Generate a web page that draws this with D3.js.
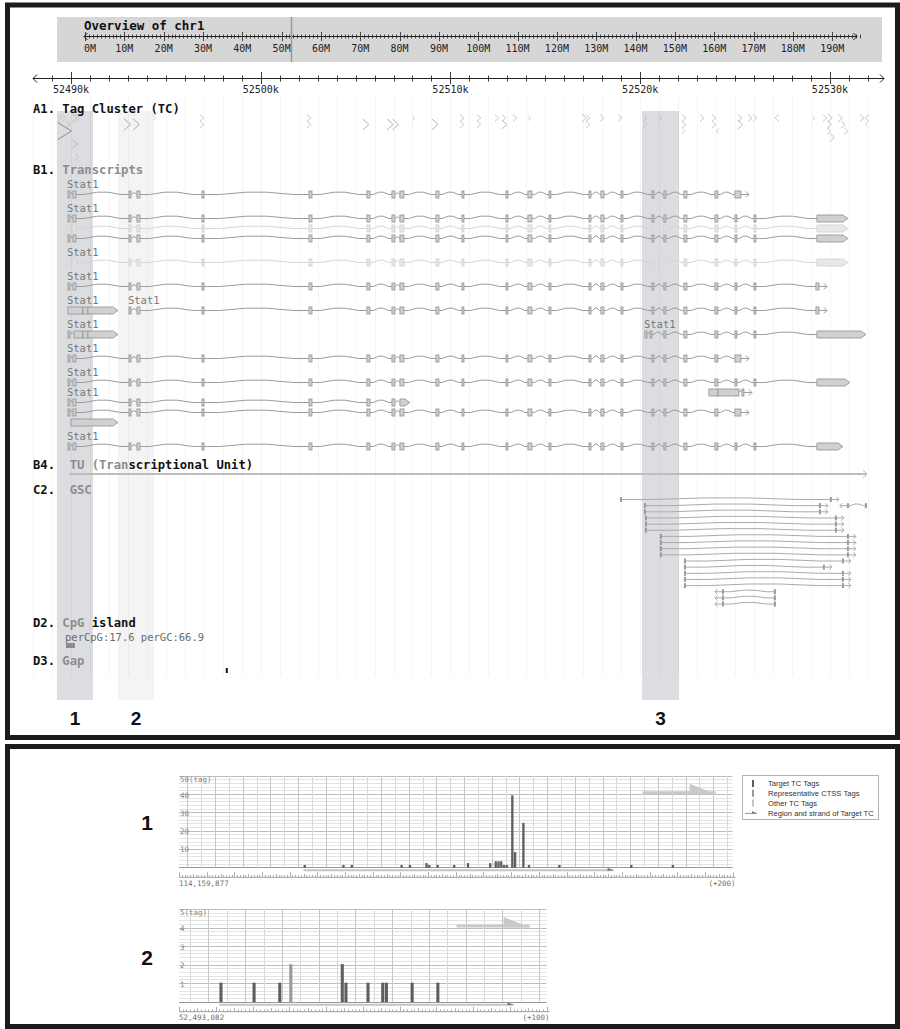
<!DOCTYPE html>
<html>
<head>
<meta charset="utf-8">
<script src="https://cdn.jsdelivr.net/npm/d3@7"></script>
<style>
body { margin: 0; background: #fff; }
svg { display: block; }
text { white-space: pre; }
</style>
</head>
<body>
<script>
const width = 900,
    height = 1029;

// ---- overview ----
const chrName = "chr1";
const chrLength = 197069962;
const viewRange = [52488000, 52532850];

// highlighted tag clusters
const highlights = [
  { name: "1", from: 52489260, to: 52491160, tone: "dark" },
  { name: "2", from: 52492480, to: 52494380, tone: "pale" },
  { name: "3", from: 52520100, to: 52522050, tone: "dark" }
];

// A1 tag clusters: position, lane, tag count, strand
const tagClusters = [
  [52489310, 0, 2, "+"], [52489530, 0, 2, "+"], [52490050, 0, 4, "+"], [52490220, 0, 3, "+"],
  [52489740, 1, 3, "+"], [52489310, 2, 100, "+"], [52490050, 4, 6, "+"], [52490210, 6, 2, "+"],
  [52492790, 1, 14, "+"], [52493270, 1, 12, "+"], [52494320, 0, 1, "+"],
  [52496800, 0, 2, "+"], [52496800, 1, 2, "+"], [52502440, 0, 2, "+"], [52502440, 1, 2, "+"],
  [52505390, 1, 9, "+"], [52506660, 1, 10, "+"], [52506950, 1, 9, "+"], [52507980, 0, 1, "+"],
  [52509030, 1, 9, "+"], [52510510, 0, 2, "+"], [52510510, 1, 2, "+"], [52511400, 0, 2, "+"],
  [52511400, 1, 2, "+"], [52512350, 0, 2, "+"], [52512720, 0, 2, "+"], [52512720, 1, 4, "+"],
  [52513300, 0, 2, "+"], [52514090, 0, 1, "+"], [52516940, 0, 3, "+"], [52517150, 0, 2, "+"],
  [52517150, 1, 2, "+"], [52517890, 0, 2, "+"], [52518840, 0, 2, "+"], [52520150, 0, 2, "+"],
  [52520150, 1, 2, "+"], [52520940, 0, 2, "+"], [52522210, 0, 2, "+"], [52522210, 1, 2, "+"],
  [52522210, 2, 1, "+"], [52523160, 0, 2, "+"], [52523790, 0, 2, "+"], [52523790, 1, 2, "+"],
  [52524000, 2, 1, "-"], [52525160, 0, 2, "+"], [52525160, 1, 4, "+"], [52525690, 0, 2, "+"],
  [52525950, 0, 2, "+"], [52527110, 0, 2, "-"], [52529060, 0, 1, "+"], [52529640, 0, 2, "+"],
  [52529900, 0, 3, "+"], [52529850, 1, 3, "+"], [52529850, 2, 2, "+"], [52530010, 3, 3, "+"],
  [52530430, 0, 3, "+"], [52530600, 1, 2, "+"], [52530750, 2, 2, "+"], [52531590, 0, 2, "+"],
  [52531860, 0, 2, "-"], [52531860, 1, 1, "-"]
];

// B1 Stat1 exon model
const stat1Exons = [
  [52489842, 52489947], [52490105, 52490264], [52493057, 52493162], [52493478, 52493636],
  [52496904, 52497009], [52502543, 52502701], [52505599, 52505757], [52506917, 52507075],
  [52507338, 52507549], [52509236, 52509394], [52510606, 52510711], [52512925, 52513030],
  [52514084, 52514294], [52515191, 52515296], [52517299, 52517404], [52517931, 52518089],
  [52518985, 52519090], [52520619, 52520724], [52521251, 52521357], [52522305, 52522463],
  [52523939, 52524097], [52524993, 52525098], [52525995, 52526100]
];
const utrEnd = [52529314, 52530948];
const shortEnd = [52529262, 52529420];
const altEnd = [52524993, 52525309];

const transcripts = [
  { lane: 0, label: true, light: false, exons: stat1Exons.slice(0, 21).concat([altEnd]) },
  { lane: 1, label: true, light: false, exons: stat1Exons.concat([utrEnd]) },
  { lane: 2, label: false, light: true, exons: stat1Exons.concat([utrEnd]) },
  { lane: 3, label: false, light: false, exons: stat1Exons.concat([utrEnd]) },
  { lane: 4, label: true, light: true, exons: stat1Exons.concat([utrEnd]) },
  { lane: 5, label: true, light: false, exons: stat1Exons.concat([shortEnd]) },
  { lane: 6, label: true, light: false, exons: [[52489842, 52490632], [52490632, 52490896], [52490896, 52492477]] },
  { lane: 6, label: true, light: false, exons: stat1Exons.slice(2).concat([shortEnd]) },
  { lane: 7, label: true, light: false, exons: [[52489842, 52489947], [52490158, 52490632], [52490632, 52490896], [52490896, 52492477]] },
  { lane: 7, label: true, light: false, exons: [[52520250, 52520355], [52520513, 52520619], [52521251, 52521357], [52522305, 52522463],
      [52523939, 52524097], [52524993, 52525098], [52525995, 52526100], [52529314, 52531897]] },
  { lane: 8, label: true, light: false, exons: stat1Exons.slice(0, 21).concat([altEnd]) },
  { lane: 9, label: true, light: false, exons: stat1Exons.concat([[52529314, 52531053]]) },
  { lane: 10, label: false, light: false, exons: [[52523623, 52524097], [52524097, 52525204], [52525362, 52525467]] },
  { lane: 11, label: true, light: false, exons: stat1Exons.slice(0, 8).concat([[52507338, 52507865]]) },
  { lane: 12, label: false, light: false, exons: stat1Exons.slice(0, 21).concat([altEnd]) },
  { lane: 13, label: false, light: false, exons: [[52490000, 52492477]] },
  { lane: 14, label: true, light: false, exons: stat1Exons.concat([[52529314, 52530684]]) }
];
const transcriptName = "Stat1";

// B4 transcriptional unit
const tuRange = [52489900, 52531950];

// C2 GSC tags: from, to, strand, lane
const gscTags = [
  [52518985, 52530053, "+", 0], [52530948, 52531897, "-", 1],
  [52520250, 52529473, "+", 1], [52520250, 52529473, "+", 2],
  [52520303, 52530316, "+", 3], [52520303, 52530316, "+", 4], [52520303, 52530316, "+", 5],
  [52521093, 52530948, "+", 6], [52521093, 52530948, "+", 7], [52521093, 52530948, "+", 8],
  [52521093, 52530948, "+", 9], [52522358, 52530684, "+", 10], [52522358, 52529683, "+", 11],
  [52522358, 52530684, "+", 12], [52522358, 52530684, "+", 13], [52522358, 52530684, "+", 14],
  [52524361, 52527102, "-", 15], [52524361, 52527102, "-", 16], [52524361, 52527102, "-", 17]
];

// D2 / D3
const cpgIsland = { from: 52489740, to: 52490210, perCpG: 17.6, perGC: 66.9 };
const gaps = [[52498160, 52498260]];

// ---- tag charts ----
const tc1Start = 114159877, tc1Span = 200, tc1Max = 50;
const tc1Pos  = [45, 59, 62, 80, 83, 89, 90, 93, 99, 104, 112, 114, 115, 116, 117, 118, 120, 121, 124, 126, 137, 163, 178];
const tc1Tags = [ 1,  1,  1,  1,  1,  2,  1,  1,  1,   2,   2,   3,   3,   3,   1,   1,  39,   8,  24,   1,   1,   1,   1];
const tc1Kind = tc1Pos.map(() => "target");
const tc1Region = [45, 156];

const tc2Start = 52493082, tc2Span = 100, tc2Max = 5;
const tc2Pos  = [11, 20, 27, 30, 44, 45, 51, 55, 56, 63, 70];
const tc2Tags = [ 1,  1,  1,  2,  2,  1,  1,  1,  1,  1,  1];
const tc2Kind = ["target", "target", "target", "rep", "target", "target", "target", "target", "target", "target", "target"];
const tc2Region = [11, 90];

const legendItems = ["Target TC Tags", "Representative CTSS Tags", "Other TC Tags", "Region and strand of Target TC"];

// --------------------------------------------------------------
const mono = '"DejaVu Sans Mono", monospace';
const sans = '"Liberation Sans", Arial, sans-serif';
const kindColor = { target: "#5e5e5e", rep: "#9a9a9a", other: "#c4c4c4" };

const svg = d3.select("body").append("svg")
    .attr("width", width)
    .attr("height", height);

// frames
svg.append("rect").attr("x", 7.5).attr("y", 5).attr("width", 890).attr("height", 732.5)
    .attr("fill", "none").attr("stroke", "#1b1b1b").attr("stroke-width", 5);
svg.append("rect").attr("x", 7.5).attr("y", 746.5).attr("width", 890).attr("height", 280)
    .attr("fill", "none").attr("stroke", "#1b1b1b").attr("stroke-width", 5);

// ---------- overview ----------
const ox = d3.scaleLinear().domain([0, chrLength]).range([85, 860]);
const ov = svg.append("g");
ov.append("rect").attr("x", 57).attr("y", 17).attr("width", 825).attr("height", 45).attr("fill", "#d6d6d6");
ov.append("text").attr("x", 84).attr("y", 30).attr("font-family", mono).attr("font-weight", "bold")
    .attr("font-size", 12.5).attr("fill", "#111").text("Overview of " + chrName);
ov.append("line").attr("x1", ox(0) - 1).attr("x2", ox(chrLength) - 3).attr("y1", 36.5).attr("y2", 36.5)
    .attr("stroke", "#222");
const ovTicks = d3.range(0, chrLength, 1e6);
ov.selectAll(".ot").data(ovTicks).join("line")
    .attr("x1", d => Math.round(ox(d)) + 0.5).attr("x2", d => Math.round(ox(d)) + 0.5)
    .attr("y1", (d, i) => i % 10 === 0 ? 32 : 34.5)
    .attr("y2", (d, i) => i % 10 === 0 ? 41 : 38.5)
    .attr("stroke", "#222").attr("stroke-width", 0.8);
ov.selectAll(".ol").data(ovTicks.filter((d, i) => i % 10 === 0)).join("text")
    .attr("x", (d, i) => i === 0 ? ox(d) - 1 : ox(d))
    .attr("y", 51.5)
    .attr("text-anchor", (d, i) => i === 0 ? "start" : "middle")
    .attr("font-family", mono).attr("font-size", 10).attr("fill", "#222")
    .text(d => (d / 1e6) + "M");
function chevron(g, xt, y, dir, size, color) {
  g.append("path")
      .attr("d", `M${xt - dir * size},${y - size}L${xt},${y}L${xt - dir * size},${y + size}`)
      .attr("fill", "none").attr("stroke", color).attr("stroke-width", 1);
}
chevron(ov, ox(0) - 1, 36.5, -1, 3.5, "#222");
chevron(ov, ox(chrLength) - 3, 36.5, 1, 3.5, "#222");
ov.append("line").attr("x1", ox(d3.mean(viewRange))).attr("x2", ox(d3.mean(viewRange)))
    .attr("y1", 17).attr("y2", 62).attr("stroke", "#9a9a9a").attr("stroke-width", 1.5);

// ---------- main view ----------
const x = d3.scaleLinear().domain(viewRange).range([33, 884]);
const kbTicks = d3.range(Math.ceil(viewRange[0] / 1000) * 1000, viewRange[1], 1000);

const view = svg.append("g");
// highlight bands
view.selectAll(".band").data(highlights).join("rect")
    .attr("x", d => x(d.from)).attr("width", d => x(d.to) - x(d.from))
    .attr("y", 111).attr("height", 589)
    .attr("fill", d => d.tone === "dark" ? "#dcdde0" : "#f4f4f4");
// grid
view.selectAll(".grid").data(kbTicks).join("line")
    .attr("x1", d => Math.round(x(d)) + 0.5).attr("x2", d => Math.round(x(d)) + 0.5)
    .attr("y1", 96).attr("y2", 676)
    .attr("stroke", "#000").attr("stroke-opacity", 0.04);
view.selectAll(".bandno").data(highlights).join("text")
    .attr("x", d => x((d.from + d.to) / 2)).attr("y", 725)
    .attr("text-anchor", "middle").attr("font-family", sans).attr("font-weight", "bold")
    .attr("font-size", 19).attr("fill", "#111").text(d => d.name);

// axis
view.append("line").attr("x1", 33).attr("x2", 884).attr("y1", 78.5).attr("y2", 78.5).attr("stroke", "#222");
chevron(view, 33, 78.5, -1, 4, "#222");
chevron(view, 884, 78.5, 1, 4, "#222");
view.selectAll(".kt").data(kbTicks.filter(d => x(d) > 36)).join("line")
    .attr("x1", d => Math.round(x(d)) + 0.5).attr("x2", d => Math.round(x(d)) + 0.5)
    .attr("y1", d => d % 10000 === 0 ? 72 : 75.5)
    .attr("y2", d => d % 10000 === 0 ? 84 : 81.5)
    .attr("stroke", "#222").attr("stroke-width", 0.9);
view.selectAll(".kl").data(kbTicks.filter(d => d % 10000 === 0)).join("text")
    .attr("x", d => x(d)).attr("y", 93).attr("text-anchor", "middle")
    .attr("font-family", mono).attr("font-size", 10).attr("fill", "#222")
    .text(d => (d / 1000) + "k");

// track labels
const trackLabels = [
  { y: 113, code: "A1. ", parts: [["Tag Cluster (TC)", "#111"]] },
  { y: 174, code: "B1. ", parts: [["Transcripts", "#8c8c8c"]] },
  { y: 469, code: "B4.  ", parts: [["TU (Tran", "#8c8c8c"], ["scriptional Unit)", "#111"]] },
  { y: 494, code: "C2.  ", parts: [["GSC", "#8c8c8c"]] },
  { y: 627, code: "D2. ", parts: [["CpG", "#8c8c8c"], [" island", "#111"]] },
  { y: 665, code: "D3. ", parts: [["Gap", "#8c8c8c"]] }
];
trackLabels.forEach(t => {
  const tx = view.append("text").attr("x", 33).attr("y", t.y)
      .attr("font-family", mono).attr("font-weight", "bold").attr("font-size", 12.2);
  tx.append("tspan").attr("fill", "#111").text(t.code);
  t.parts.forEach(p => tx.append("tspan").attr("fill", p[1]).text(p[0]));
});

// A1 tag clusters
const tcSize = d3.scaleLog().domain([1, 100]).range([5, 17]);
const tcShade = d3.scaleLog().domain([1, 100]).range(["#d2d2d2", "#8c8c8c"]).clamp(true);
const tcLaneY = lane => 118 + lane * 6.5;
view.append("g").selectAll("path").data(tagClusters).join("path")
    .attr("d", d => {
      const h = tcSize(d[2]), w = h * (d[2] > 50 ? 0.8 : 0.55), y = tcLaneY(d[1]), x0 = x(d[0]);
      return d[3] === "+"
        ? `M${x0},${y - h / 2}L${x0 + w},${y}L${x0},${y + h / 2}`
        : `M${x0 + w},${y - h / 2}L${x0},${y}L${x0 + w},${y + h / 2}`;
    })
    .attr("fill", "none").attr("stroke", d => tcShade(d[2])).attr("stroke-width", 1);

// B1 transcripts
const laneCount = d3.max(transcripts, t => t.lane) + 1;
const laneY = [];
let yCur = 194;
for (let l = 0; l < laneCount; l++) {
  if (l > 0) {
    const labelled = transcripts.filter(t => t.lane === l && t.label);
    const prev = transcripts.filter(t => t.lane === l - 1);
    const clash = labelled.some(a => prev.some(b =>
      x(b.exons[0][0]) < x(a.exons[0][0]) + 34 && x(b.exons[b.exons.length - 1][1]) > x(a.exons[0][0])));
    yCur += clash ? 24 : 10;
  }
  laneY.push(yCur);
}

function hatPoints(x1, x2, y, h) {
  const w = x2 - x1;
  if (w < 8) return [[x1, y], [(x1 + x2) / 2, y - 2], [x2, y]];
  return [[x1, y], [x1 + w * 0.15, y], [x1 + w * 0.4, y - h], [x1 + w * 0.6, y - h], [x1 + w * 0.85, y], [x2, y]];
}
const line = d3.line();

const txG = view.append("g");
transcripts.forEach(t => {
  const y = laneY[t.lane];
  const col = t.light
    ? { line: "#d6d6d6", fill: "#e8e8e8", stroke: "#d2d2d2" }
    : { line: "#9c9c9c", fill: "#d0d0d0", stroke: "#999" };
  const g = txG.append("g");
  const ex = t.exons;
  for (let i = 1; i < ex.length; i++) {
    const a = x(ex[i - 1][1]), b = x(ex[i][0]);
    if (b - a > 0.5) {
      g.append("path").attr("d", line(hatPoints(a, b, y + 0.5, 2.3)))
          .attr("fill", "none").attr("stroke", col.line).attr("stroke-width", 1);
    }
  }
  ex.forEach((e, i) => {
    const a = x(e[0]), b = Math.max(x(e[1]), a + 1.6);
    const last = i === ex.length - 1;
    if (last && b - a > 6) {
      g.append("path")
          .attr("d", `M${a},${y - 3}H${b - 5}L${b},${y + 0.5}L${b - 5},${y + 4}H${a}Z`)
          .attr("fill", col.fill).attr("stroke", col.stroke).attr("stroke-width", 0.9);
    } else {
      g.append("rect").attr("x", a).attr("y", y - 3).attr("width", b - a).attr("height", 7)
          .attr("fill", col.fill).attr("stroke", col.stroke).attr("stroke-width", 0.9);
      if (last) {
        g.append("line").attr("x1", b).attr("x2", b + 8).attr("y1", y + 0.5).attr("y2", y + 0.5)
            .attr("stroke", col.line);
        chevron(g, b + 8, y + 0.5, 1, 3, col.line);
      }
    }
  });
  if (t.label) {
    g.append("text").attr("x", x(ex[0][0]) - 1).attr("y", y - 6)
        .attr("font-family", mono).attr("font-size", 10.5).attr("fill", "#777").text(transcriptName);
  }
});

// B4 TU
view.append("line").attr("x1", x(tuRange[0])).attr("x2", x(tuRange[1]))
    .attr("y1", 474).attr("y2", 474).attr("stroke", "#bdbdbd").attr("stroke-width", 2);
chevron(view, x(tuRange[1]), 474, 1, 4, "#bdbdbd");

// C2 GSC
const gscY = lane => 499 + lane * 6.15;
const gscG = view.append("g");
gscTags.forEach(d => {
  const y = gscY(d[3]) + 0.5, a = x(d[0]), b = x(d[1]);
  gscG.append("path").attr("d", line(hatPoints(a, b, y, 1.6)))
      .attr("fill", "none").attr("stroke", "#aaa").attr("stroke-width", 1);
  [a, b].forEach(p => gscG.append("rect").attr("x", p - 1).attr("y", y - 2.5)
      .attr("width", 2).attr("height", 5).attr("fill", "#9a9a9a"));
  if (d[2] === "+") {
    gscG.append("line").attr("x1", b).attr("x2", b + 8).attr("y1", y).attr("y2", y).attr("stroke", "#aaa");
    chevron(gscG, b + 8, y, 1, 2.5, "#aaa");
  } else {
    gscG.append("line").attr("x1", a - 8).attr("x2", a).attr("y1", y).attr("y2", y).attr("stroke", "#aaa");
    chevron(gscG, a - 8, y, -1, 2.5, "#aaa");
  }
});

// D2 CpG island
view.append("text").attr("x", x(cpgIsland.from) - 1).attr("y", 641)
    .attr("font-family", mono).attr("font-size", 10.5).attr("fill", "#6a6a6a")
    .text(`perCpG:${cpgIsland.perCpG} perGC:${cpgIsland.perGC}`);
view.append("rect").attr("x", x(cpgIsland.from)).attr("y", 643)
    .attr("width", x(cpgIsland.to) - x(cpgIsland.from)).attr("height", 5).attr("fill", "#8a8a8a");

// D3 gap
view.selectAll(".gap").data(gaps).join("rect")
    .attr("x", d => x(d[0])).attr("y", 668)
    .attr("width", d => Math.max(2, x(d[1]) - x(d[0]))).attr("height", 5).attr("fill", "#111");

// ---------- tag charts ----------
function tagChart(c) {
  const g = svg.append("g");
  const xs = d3.scaleLinear().domain([0, c.span]).range([c.left, c.left + c.span * c.pxPerBp]);
  const ys = d3.scaleLinear().domain([0, c.yMax]).range([c.bottom, c.top]);
  const [r0, r1] = xs.range();

  const hLines = d3.range(0, 26).map(i => i * c.yMax / 25);
  g.selectAll(".h").data(hLines).join("line")
      .attr("x1", r0).attr("x2", r1)
      .attr("y1", d => Math.round(ys(d)) + 0.5).attr("y2", d => Math.round(ys(d)) + 0.5)
      .attr("stroke", (d, i) => i === 0 ? "#9a9a9a" : i % 5 === 0 ? "#bdbdbd" : "#e4e4e4");
  const first = (5 - c.start % 5) % 5;
  const vLines = d3.range(first, c.span, 5);
  g.selectAll(".v").data(vLines).join("line")
      .attr("x1", d => Math.round(xs(d)) + 0.5).attr("x2", d => Math.round(xs(d)) + 0.5)
      .attr("y1", ys(c.yMax)).attr("y2", ys(0))
      .attr("stroke", d => (c.start + d) % 10 === 0 ? "#c6c6c6" : "#d9d9d9");

  // y labels
  g.selectAll(".yl").data(d3.range(1, 6).map(i => i * c.yMax / 5)).join("text")
      .attr("x", r0 + 1).attr("y", (d, i) => i === 4 ? ys(d) + 6 : ys(d) + 3.5)
      .attr("font-family", mono).attr("font-size", 7.5).attr("fill", "#888")
      .text((d, i) => i === 4 ? d + "(tag)" : d);

  // bars
  g.selectAll(".bar").data(c.pos.map((p, i) => ({ p, t: c.tags[i], k: c.kind[i] }))).join("rect")
      .attr("x", d => xs(d.p)).attr("width", c.pxPerBp * 0.84)
      .attr("y", d => ys(d.t) - 0.5).attr("height", d => ys(0) - ys(d.t) + 1)
      .attr("fill", d => kindColor[d.k]);

  // region of target TC
  const ry = c.bottom + 3, ra = xs(c.region[0]), rb = xs(c.region[1] + 1);
  g.append("line").attr("x1", ra).attr("x2", rb).attr("y1", ry).attr("y2", ry)
      .attr("stroke", "#c4c4c4").attr("stroke-width", 2);
  g.append("path").attr("d", `M${rb - 6},${ry - 2.5}L${rb},${ry}L${rb - 6},${ry + 0.5}Z`).attr("fill", "#7a7a7a");

  // strand arrow
  const sy = c.top + 17;
  g.append("line").attr("x1", r1 - 90).attr("x2", r1 - 17).attr("y1", sy).attr("y2", sy)
      .attr("stroke", "#c9c9c9").attr("stroke-width", 3);
  g.append("path").attr("d", `M${r1 - 43},${sy - 9}L${r1 - 16},${sy + 1.5}L${r1 - 43},${sy + 1.5}Z`)
      .attr("fill", "#c9c9c9");

  // ruler
  const rl = c.bottom + 9.5;
  g.append("line").attr("x1", r0).attr("x2", r1 + 3).attr("y1", rl + 0.5).attr("y2", rl + 0.5)
      .attr("stroke", "#9a9a9a");
  g.selectAll(".rt").data(d3.range(0, c.span + 1)).join("line")
      .attr("x1", d => Math.round(xs(d)) + 0.5).attr("x2", d => Math.round(xs(d)) + 0.5)
      .attr("y1", d => rl - (d % 10 === 0 ? 4.5 : d % 5 === 0 ? 3 : 1.8)).attr("y2", rl)
      .attr("stroke", "#9a9a9a").attr("stroke-width", 0.8);
  g.append("text").attr("x", r0).attr("y", rl + 9).attr("font-family", mono).attr("font-size", 7.5)
      .attr("fill", "#707070").text(d3.format(",")(c.start));
  g.append("text").attr("x", r1 + 3).attr("y", rl + 9).attr("text-anchor", "end")
      .attr("font-family", mono).attr("font-size", 7.5).attr("fill", "#707070").text(`(+${c.span})`);

  svg.append("text").attr("x", 147).attr("y", c.numberY).attr("text-anchor", "middle")
      .attr("font-family", sans).attr("font-weight", "bold").attr("font-size", 21).attr("fill", "#111")
      .text(c.name);
}

tagChart({ name: "1", start: tc1Start, span: tc1Span, yMax: tc1Max, pos: tc1Pos, tags: tc1Tags, kind: tc1Kind,
  region: tc1Region, left: 179, pxPerBp: 2.768, top: 775.7, bottom: 867.3, numberY: 830 });
tagChart({ name: "2", start: tc2Start, span: tc2Span, yMax: tc2Max, pos: tc2Pos, tags: tc2Tags, kind: tc2Kind,
  region: tc2Region, left: 179, pxPerBp: 3.676, top: 909, bottom: 1001.7, numberY: 965 });

// legend
const lg = svg.append("g");
lg.append("rect").attr("x", 742.5).attr("y", 775.5).attr("width", 136).attr("height", 44)
    .attr("fill", "#fff").attr("stroke", "#b4b4b4");
const legendColors = [kindColor.target, kindColor.rep, kindColor.other];
legendItems.forEach((name, i) => {
  const cy = 783.5 + i * 9.8;
  if (i < 3) {
    lg.append("rect").attr("x", 752).attr("y", cy - 3.5).attr("width", 2).attr("height", 7).attr("fill", legendColors[i]);
  } else {
    lg.append("line").attr("x1", 745).attr("x2", 757).attr("y1", cy + 0.5).attr("y2", cy + 0.5).attr("stroke", "#999");
    lg.append("path").attr("d", `M${752},${cy - 2}L${757},${cy + 0.5}L${752},${cy + 0.5}Z`).attr("fill", "#777");
  }
  lg.append("text").attr("x", 768).attr("y", cy + 2.7).attr("font-family", sans).attr("font-size", 7.6)
      .attr("fill", "#333").text(name);
});
</script>
</body>
</html>
